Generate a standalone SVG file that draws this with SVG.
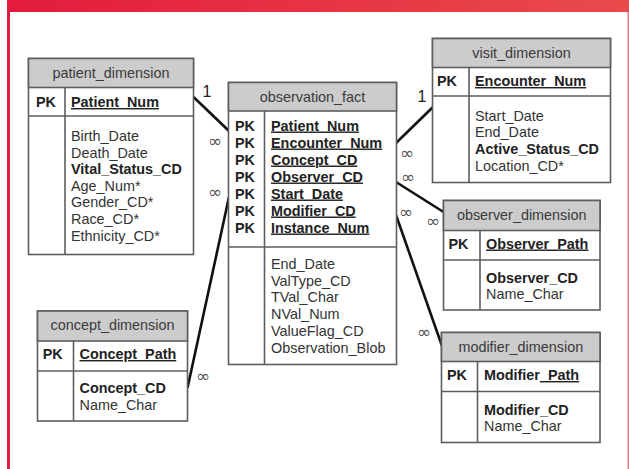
<svg xmlns="http://www.w3.org/2000/svg" width="629" height="469" viewBox="0 0 629 469">
<defs>
<linearGradient id="bar" x1="0" y1="0" x2="1" y2="0">
<stop offset="0" stop-color="#e31c3c"/>
<stop offset="1" stop-color="#e94b4b"/>
</linearGradient>
</defs>
<style>
.box{fill:#ffffff;stroke:#5e5e5e;stroke-width:1.6}
.hdr{fill:#cccccc;stroke:#5e5e5e;stroke-width:1.6}
.ln{stroke:#5e5e5e;stroke-width:1.6;fill:none}
text{font-family:"Liberation Sans",Arial,sans-serif;font-size:14.4px;fill:#333333}
.h{text-anchor:middle;fill:#3a3a3a}
.pk{font-weight:bold;fill:#222222}
.k{font-weight:bold;fill:#222222;text-decoration:underline}
.b{font-weight:bold;fill:#222222}
.c{stroke:#111111;stroke-width:2.6;fill:none}
.inf{font-family:"DejaVu Sans",sans-serif;font-size:17px;fill:#555555;text-anchor:middle}
.one{font-size:16px;fill:#222222;text-anchor:middle}
</style>
<rect x="0" y="0" width="629" height="469" fill="#ffffff"/>
<rect x="7" y="0" width="622" height="12" fill="url(#bar)"/>
<rect x="7" y="12" width="3" height="457" fill="#e21c3c"/>
<rect x="627.5" y="12" width="1.5" height="457" fill="#ee7384"/>

<g id="connectors">
<line class="c" x1="193.5" y1="97" x2="229" y2="131"/>
<line class="c" x1="187.5" y1="388" x2="229" y2="197"/>
<line class="c" x1="396" y1="143" x2="433" y2="107"/>
<line class="c" x1="396" y1="182" x2="443.5" y2="212"/>
<line class="c" x1="396" y1="215" x2="442" y2="346"/>
<text class="one" x="207" y="97">1</text>
<text class="one" x="422" y="102">1</text>
<text class="inf" x="215" y="147">∞</text>
<text class="inf" x="215" y="198">∞</text>
<text class="inf" x="407" y="159">∞</text>
<text class="inf" x="408" y="183">∞</text>
<text class="inf" x="406" y="218">∞</text>
<text class="inf" x="433" y="227">∞</text>
<text class="inf" x="424" y="338">∞</text>
<text class="inf" x="203" y="382">∞</text>
</g>

<g id="patient_dimension">
<rect class="box" x="28.5" y="58.5" width="165" height="196"/>
<rect class="hdr" x="28.5" y="58.5" width="165" height="29"/>
<line class="ln" x1="28.5" y1="116" x2="193.5" y2="116"/>
<line class="ln" x1="65" y1="87.5" x2="65" y2="254.5"/>
<text class="h" x="111" y="77.5">patient_dimension</text>
<text class="pk" x="36" y="107">PK</text>
<text class="k" x="71" y="107">Patient_Num</text>
<text x="71" y="141">Birth_Date</text>
<text x="71" y="157.5">Death_Date</text>
<text class="b" x="71" y="174">Vital_Status_CD</text>
<text x="71" y="190.7">Age_Num*</text>
<text x="71" y="207.3">Gender_CD*</text>
<text x="71" y="224">Race_CD*</text>
<text x="71" y="240.7">Ethnicity_CD*</text>
</g>

<g id="observation_fact">
<rect class="box" x="228.5" y="82.5" width="168" height="282"/>
<rect class="hdr" x="228.5" y="82.5" width="168" height="28.5"/>
<line class="ln" x1="228.5" y1="247" x2="396.5" y2="247"/>
<line class="ln" x1="264.5" y1="111" x2="264.5" y2="364.5"/>
<text class="h" x="312.5" y="102">observation_fact</text>
<text class="pk" x="235" y="130.5">PK</text>
<text class="pk" x="235" y="147.5">PK</text>
<text class="pk" x="235" y="164.5">PK</text>
<text class="pk" x="235" y="181.5">PK</text>
<text class="pk" x="235" y="198.5">PK</text>
<text class="pk" x="235" y="215.5">PK</text>
<text class="pk" x="235" y="232.5">PK</text>
<text class="k" x="271" y="130.5">Patient_Num</text>
<text class="k" x="271" y="147.5">Encounter_Num</text>
<text class="k" x="271" y="164.5">Concept_CD</text>
<text class="k" x="271" y="181.5">Observer_CD</text>
<text class="k" x="271" y="198.5">Start_Date</text>
<text class="k" x="271" y="215.5">Modifier_CD</text>
<text class="k" x="271" y="232.5">Instance_Num</text>
<text x="271" y="268.5">End_Date</text>
<text x="271" y="285.5">ValType_CD</text>
<text x="271" y="302.3">TVal_Char</text>
<text x="271" y="319">NVal_Num</text>
<text x="271" y="336">ValueFlag_CD</text>
<text x="271" y="352.7">Observation_Blob</text>
</g>

<g id="visit_dimension">
<rect class="box" x="432.5" y="38.5" width="178" height="144"/>
<rect class="hdr" x="432.5" y="38.5" width="178" height="29"/>
<line class="ln" x1="432.5" y1="96" x2="610.5" y2="96"/>
<line class="ln" x1="469" y1="67.5" x2="469" y2="182.5"/>
<text class="h" x="521.5" y="57.5">visit_dimension</text>
<text class="pk" x="437" y="86">PK</text>
<text class="k" x="475" y="86">Encounter_Num</text>
<text x="475" y="120.5">Start_Date</text>
<text x="475" y="137.3">End_Date</text>
<text class="b" x="475" y="154">Active_Status_CD</text>
<text x="475" y="170.7">Location_CD*</text>
</g>

<g id="observer_dimension">
<rect class="box" x="443.5" y="200.5" width="156.5" height="109.5"/>
<rect class="hdr" x="443.5" y="200.5" width="156.5" height="30"/>
<line class="ln" x1="443.5" y1="260" x2="600" y2="260"/>
<line class="ln" x1="480" y1="230.5" x2="480" y2="310"/>
<text class="h" x="521.7" y="219.5">observer_dimension</text>
<text class="pk" x="448.5" y="248.5">PK</text>
<text class="k" x="486" y="248.5">Observer_Path</text>
<text class="b" x="486" y="282.7">Observer_CD</text>
<text x="486" y="299.3">Name_Char</text>
</g>

<g id="modifier_dimension">
<rect class="box" x="441.5" y="332.5" width="158.5" height="110"/>
<rect class="hdr" x="441.5" y="332.5" width="158.5" height="29"/>
<line class="ln" x1="441.5" y1="391.5" x2="600" y2="391.5"/>
<line class="ln" x1="477.5" y1="361.5" x2="477.5" y2="442.5"/>
<text class="h" x="520.8" y="351.7">modifier_dimension</text>
<text class="pk" x="447" y="380">PK</text>
<text class="b" x="484" y="380">Modifier<tspan style="text-decoration:underline">_Path</tspan></text>
<text class="b" x="484" y="415">Modifier_CD</text>
<text x="484" y="431">Name_Char</text>
</g>

<g id="concept_dimension">
<rect class="box" x="37.5" y="311" width="150" height="110"/>
<rect class="hdr" x="37.5" y="311" width="150" height="30"/>
<line class="ln" x1="37.5" y1="371" x2="187.5" y2="371"/>
<line class="ln" x1="73.5" y1="341" x2="73.5" y2="421"/>
<text class="h" x="112.5" y="330">concept_dimension</text>
<text class="pk" x="42.7" y="359">PK</text>
<text class="k" x="79.5" y="359">Concept_Path</text>
<text class="b" x="79.5" y="393.3">Concept_CD</text>
<text x="79.5" y="410">Name_Char</text>
</g>
</svg>
